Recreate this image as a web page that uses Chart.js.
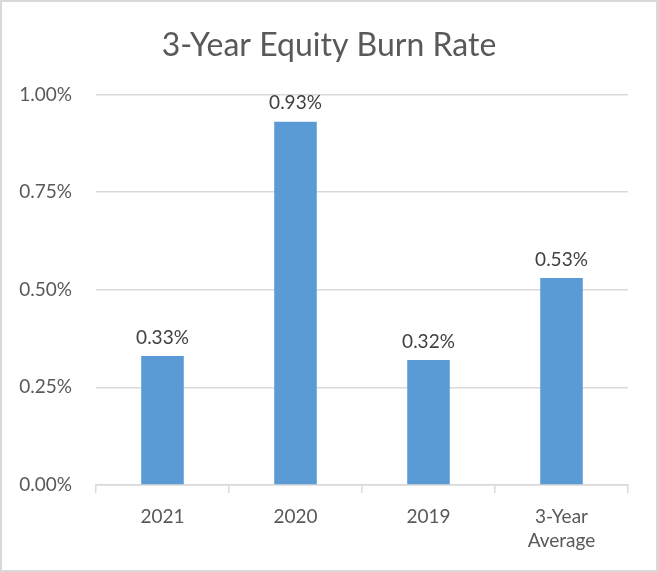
<!DOCTYPE html>
<html>
<head>
<meta charset="utf-8">
<script src="https://cdn.jsdelivr.net/npm/chart.js@4"></script>
<style>
html,body{margin:0;padding:0;background:#fff;}
#wrap{width:654px;height:568px;border:2px solid #d9d9d9;position:relative;}
</style>
</head>
<body>
<div id="wrap"><canvas id="c" width="654" height="568"></canvas></div>
<script>
const categories = ["2021", "2020", "2019", ["3-Year", "Average"]];
const burnRate = [0.33, 0.93, 0.32, 0.53];
const yTicks = [0, 0.25, 0.5, 0.75, 1.0];

const FONT = "Lato, 'Open Sans', 'Noto Sans', sans-serif";

const labelPlugin = {
  id: 'valueLabels',
  afterDatasetsDraw(chart) {
    const ctx = chart.ctx;
    const meta = chart.getDatasetMeta(0);
    ctx.save();
    ctx.font = "19px " + FONT;
    ctx.fillStyle = "#404040";
    ctx.textAlign = "center";
    ctx.textBaseline = "bottom";
    meta.data.forEach((bar, i) => {
      ctx.fillText(burnRate[i].toFixed(2) + "%", bar.x, bar.y - 9);
    });
    ctx.restore();
  }
};

new Chart(document.getElementById('c'), {
  type: 'bar',
  data: {
    labels: categories,
    datasets: [{
      data: burnRate,
      backgroundColor: '#5b9bd5',
      borderWidth: 0,
      categoryPercentage: 1.0,
      barPercentage: 0.32
    }]
  },
  options: {
    responsive: false,
    animation: false,
    layout: { padding: { left: 13, right: 13, top: 14, bottom: 0 } },
    plugins: {
      legend: { display: false },
      tooltip: { enabled: false },
      title: {
        display: true,
        text: '3-Year Equity Burn Rate',
        color: '#595959',
        font: { family: FONT, size: 32, weight: 'normal' },
        padding: { top: 10, bottom: 30 }
      }
    },
    scales: {
      y: {
        min: 0, max: 1.0,
        afterBuildTicks(scale) { scale.ticks = yTicks.map(v => ({ value: v })); },
        afterFit(scale) { scale.width = 81; },
        ticks: {
          color: '#595959',
          font: { family: FONT, size: 19 },
          padding: 24,
          callback: v => v.toFixed(2) + '%'
        },
        grid: { color: '#d9d9d9', lineWidth: 1.5, drawTicks: false },
        border: { display: false }
      },
      yRight: {
        position: 'right',
        display: true,
        afterFit(scale) { scale.width = 15; },
        ticks: { display: false },
        grid: { display: false, drawTicks: false },
        border: { display: false }
      },
      x: {
        afterFit(scale) { scale.height = 85; },
        ticks: {
          color: '#595959',
          font: { family: FONT, size: 19, lineHeight: 1.25 },
          padding: 12
        },
        grid: { display: true, drawOnChartArea: false, offset: true, color: '#d9d9d9', lineWidth: 1.5, tickLength: 8 },
        border: { display: true, color: '#d9d9d9', width: 1.5 }
      }
    }
  },
  plugins: [labelPlugin]
});
</script>
</body>
</html>
